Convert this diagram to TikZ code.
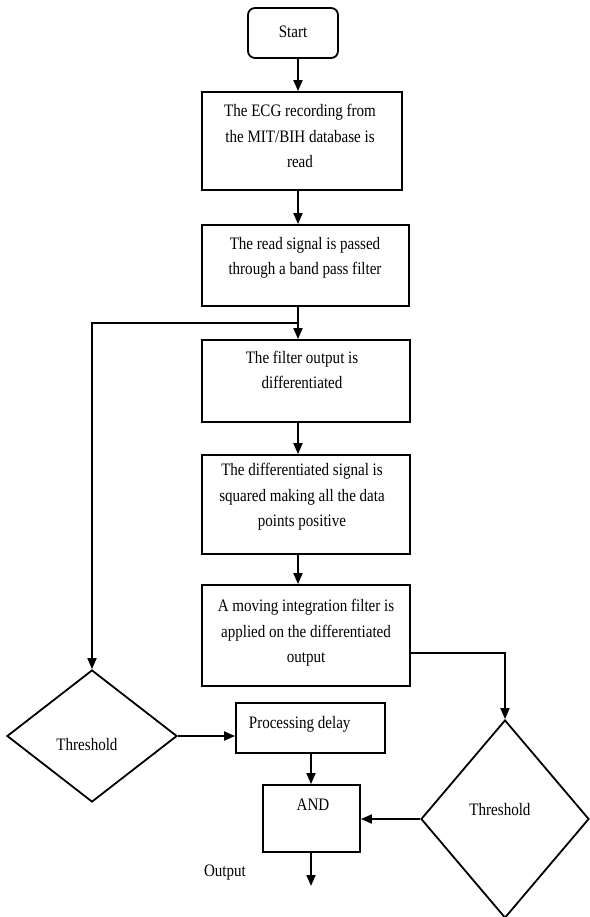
\documentclass[tikz,border=0pt]{standalone}
\usepackage{fontspec}
\setmainfont[FakeStretch=0.86]{Liberation Serif}
\usetikzlibrary{arrows.meta,shapes.geometric,calc}
\begin{document}
\begin{tikzpicture}[x=1pt,y=-1pt,
  line width=1.8pt,
  box/.style={draw,rectangle,inner sep=0pt},
  txt/.style={inner sep=0pt,align=center,font=\fontsize{17.5}{25.5}\selectfont},
  arr/.style={-{Triangle[length=11pt,width=9pt]}},
]
\useasboundingbox (0,0) rectangle (589,917);
% boxes
\node[box,rounded corners=7pt,minimum width=90pt,minimum height=50pt] (start) at (293,33) {};
\node[txt] (tstart) at (293,32) {Start};
\node[box,minimum width=200pt,minimum height=98pt] (b1) at (302,141) {};
\node[txt] (t1) at (300,136) {The ECG recording from\\the MIT/BIH database is\\read};
\node[box,minimum width=207pt,minimum height=81pt] (b2) at (305.5,265.5) {};
\node[txt] (t2) at (305,258) {The read signal is passed\\through a band pass filter};
\node[box,minimum width=208pt,minimum height=82pt] (b3) at (306,381) {};
\node[txt] (t3) at (302,370) {The filter output is\\differentiated};
\node[box,minimum width=208pt,minimum height=99pt] (b4) at (306,504.5) {};
\node[txt] (t4) at (302,497) {The differentiated signal is\\squared making all the data\\points positive};
\node[box,minimum width=208pt,minimum height=101pt] (b5) at (306,635.5) {};
\node[txt] (t5) at (306,633) {A moving integration filter is\\applied on the differentiated\\output};
\node[draw,diamond,aspect=1.29,minimum width=170pt,minimum height=132pt,inner sep=0pt] (d1) at (92,736) {};
\node[txt] (td1) at (87,745) {Threshold};
\node[draw,diamond,aspect=0.85,minimum width=168pt,minimum height=198pt,inner sep=0pt] (d2) at (505,819) {};
\node[txt] (td2) at (500,810) {Threshold};
\node[box,minimum width=149pt,minimum height=50pt] (pd) at (310.5,728) {};
\node[txt,anchor=west] (tpd) at (248,724) {Processing delay};
\node[box,minimum width=97pt,minimum height=67pt] (and) at (311.5,818.5) {};
\node[txt] (tand) at (313,805) {AND};
\node[txt] (tout) at (225,873) {Output};
% connectors
\coordinate (j) at (298,323);
\coordinate (o) at (311,886);
\draw[arr] (start.south -| 298,0) -- (b1.north -| 298,0);
\draw[arr] (b1.south -| 298,0) -- (b2.north -| 298,0);
\draw[arr] (b2.south -| j) -- (b3.north -| j);
\draw[arr] (j) -| (d1.north);
\draw[arr] (b3.south -| 298,0) -- (b4.north -| 298,0);
\draw[arr] (b4.south -| 298,0) -- (b5.north -| 298,0);
\draw[arr] (b5.east |- 0,653) -| (d2.north);
\draw[arr] (d1.east) -- (pd.west |- d1.east);
\draw[arr] (pd.south -| o) -- (and.north -| o);
\draw[arr] (d2.west) -- (and.east |- d2.west);
\draw[arr] (and.south -| o) -- (o);
\end{tikzpicture}
\end{document}
